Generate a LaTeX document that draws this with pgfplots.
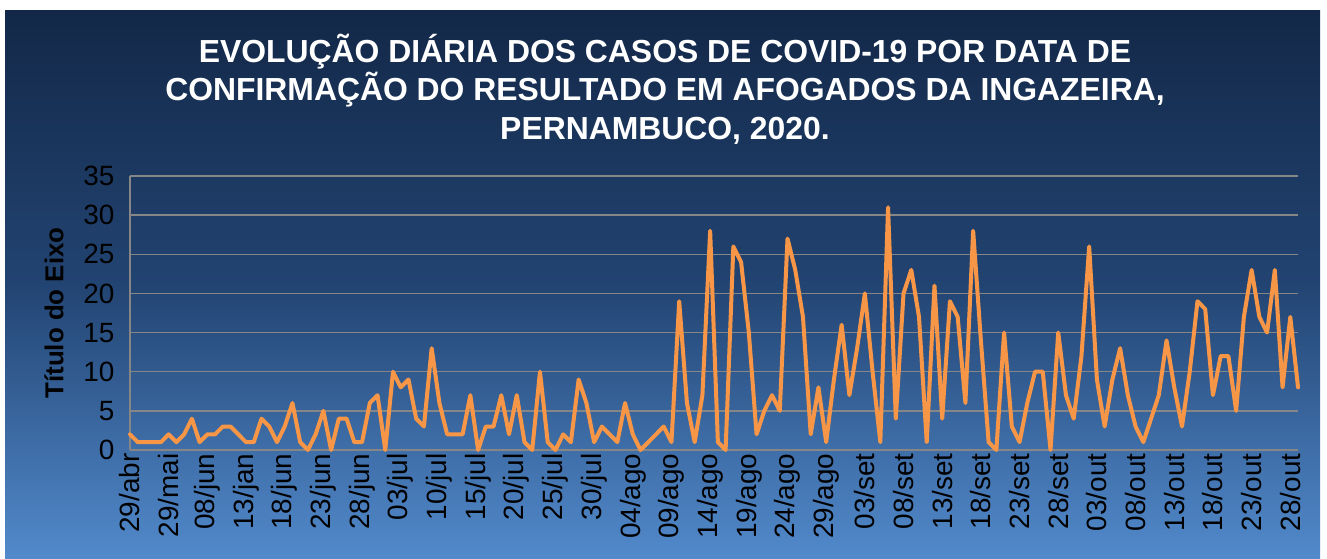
\documentclass[border=0pt]{standalone}
\usepackage{fontspec}
\setmainfont{Liberation Sans}
\usepackage{pgfplots}
\pgfplotsset{compat=1.18}
\definecolor{bgtop}{RGB}{19,40,72}
\definecolor{bgmid}{RGB}{34,68,114}
\definecolor{bgbot}{RGB}{82,138,204}
\definecolor{lineor}{RGB}{247,150,70}
\definecolor{gridg}{RGB}{134,134,134}
\begin{document}
\begin{tikzpicture}[x=1bp,y=1bp]
\useasboundingbox (0,0) rectangle (1327,559);
\fill[white] (0,0) rectangle (1327,559);
\shade[top color=bgtop, bottom color=bgbot, middle color=bgmid] (5,0) rectangle (1320,548);
\node[text=white, font=\bfseries\fontsize{32}{38.5}\selectfont, align=center] at (665,470)
 {EVOLUÇÃO DIÁRIA DOS CASOS DE COVID-19 POR DATA DE\\CONFIRMAÇÃO DO RESULTADO EM AFOGADOS DA INGAZEIRA,\\PERNAMBUCO, 2020.};
\begin{axis}[
 at={(130bp,109bp)}, anchor=south west, scale only axis,
 width=1168bp, height=274bp,
 xmin=0, xmax=151, ymin=0, ymax=35,
 ytick={0,5,...,35}, xtick={0,5,...,150},
 xticklabels={29/abr,29/mai,08/jun,13/jan,18/jun,23/jun,28/jun,03/jul,10/jul,15/jul,20/jul,25/jul,30/jul,04/ago,09/ago,14/ago,19/ago,24/ago,29/ago,03/set,08/set,13/set,18/set,23/set,28/set,03/out,08/out,13/out,18/out,23/out,28/out},
 ymajorgrids, grid style={gridg, line width=1.5bp},
 axis x line*=bottom, axis y line*=left,
 axis line style={gridg, line width=1.5bp, -},
 every outer x axis line/.append style={-},
 every outer y axis line/.append style={-},
 major tick length=0pt, tick style={draw=none},
 tick label style={font=\fontsize{28}{28}\selectfont, text=black},
 xticklabel style={rotate=90, anchor=east, xshift=0bp},
 yticklabel style={anchor=east, xshift=-12bp},
 /pgf/number format/assume math mode=true,
 ylabel={Título do Eixo},
 every axis y label/.style={at={(axis description cs:-0.065,0.5)}, rotate=90, anchor=center, font=\bfseries\fontsize{26}{26}\selectfont, text=black},
 clip=false,
]
\addplot[lineor, line width=4bp, line join=round, line cap=round, mark=none] coordinates {
(0,2)(1,1)(2,1)(3,1)(4,1)(5,2)(6,1)(7,2)(8,4)(9,1)
(10,2)(11,2)(12,3)(13,3)(14,2)(15,1)(16,1)(17,4)(18,3)(19,1)
(20,3)(21,6)(22,1)(23,0)(24,2)(25,5)(26,0)(27,4)(28,4)(29,1)
(30,1)(31,6)(32,7)(33,0)(34,10)(35,8)(36,9)(37,4)(38,3)(39,13)
(40,6)(41,2)(42,2)(43,2)(44,7)(45,0)(46,3)(47,3)(48,7)(49,2)
(50,7)(51,1)(52,0)(53,10)(54,1)(55,0)(56,2)(57,1)(58,9)(59,6)
(60,1)(61,3)(62,2)(63,1)(64,6)(65,2)(66,0)(67,1)(68,2)(69,3)
(70,1)(71,19)(72,6)(73,1)(74,7)(75,28)(76,1)(77,0)(78,26)(79,24)
(80,15)(81,2)(82,5)(83,7)(84,5)(85,27)(86,23)(87,17)(88,2)(89,8)
(90,1)(91,9)(92,16)(93,7)(94,13)(95,20)(96,10)(97,1)(98,31)(99,4)
(100,20)(101,23)(102,17)(103,1)(104,21)(105,4)(106,19)(107,17)(108,6)(109,28)
(110,14)(111,1)(112,0)(113,15)(114,3)(115,1)(116,6)(117,10)(118,10)(119,0)
(120,15)(121,7)(122,4)(123,12)(124,26)(125,9)(126,3)(127,9)(128,13)(129,7)
(130,3)(131,1)(132,4)(133,7)(134,14)(135,8)(136,3)(137,10)(138,19)(139,18)
(140,7)(141,12)(142,12)(143,5)(144,17)(145,23)(146,17)(147,15)(148,23)(149,8)
(150,17)(151,8)
};
\end{axis}
\end{tikzpicture}
\end{document}
